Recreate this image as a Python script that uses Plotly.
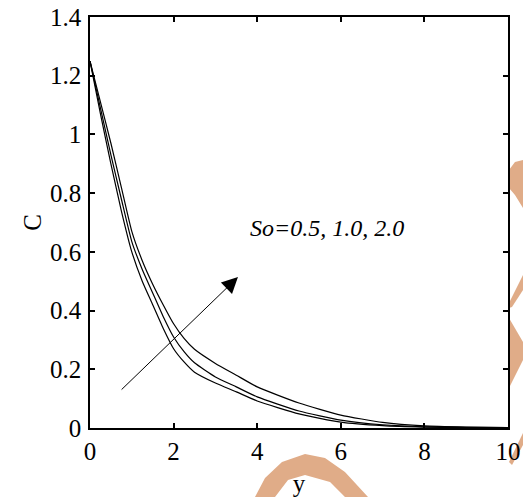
import plotly.graph_objects as go

y_grid = [0, 0.25, 0.5, 0.75, 1.0, 1.25, 1.5, 1.75, 2.0, 2.25, 2.5, 3.0, 3.5, 4.0, 5.0, 6.0, 7.0, 8.0, 9.0, 10.0]
c_so05 = [1.25, 1.07, 0.90, 0.74, 0.60, 0.50, 0.42, 0.34, 0.27, 0.225, 0.19, 0.153, 0.123, 0.092, 0.048, 0.020, 0.008, 0.003, 0.001, 0.0]
c_so10 = [1.25, 1.09, 0.93, 0.78, 0.635, 0.54, 0.46, 0.38, 0.31, 0.26, 0.222, 0.174, 0.140, 0.106, 0.058, 0.027, 0.011, 0.004, 0.002, 0.001]
c_so20 = [1.25, 1.11, 0.97, 0.82, 0.67, 0.57, 0.49, 0.42, 0.355, 0.305, 0.268, 0.220, 0.180, 0.140, 0.085, 0.044, 0.019, 0.007, 0.003, 0.001]

x_ticks = [0, 2, 4, 6, 8, 10]
y_ticks = [0, 0.2, 0.4, 0.6, 0.8, 1.0, 1.2, 1.4]
y_tick_text = ["0", "0.2", "0.4", "0.6", "0.8", "1", "1.2", "1.4"]

FONT = "Liberation Serif"
W, H = 523, 497
L, R, T, B = 90, 15, 17, 69

fig = go.Figure()
for vals in (c_so05, c_so10, c_so20):
    fig.add_trace(go.Scatter(x=y_grid, y=vals, mode="lines",
                             line=dict(color="black", width=1.2, shape="spline", smoothing=0.5),
                             showlegend=False, hoverinfo="skip"))

# arrow
fig.add_annotation(x=3.54, y=0.514, ax=0.72, ay=0.126, xref="x", yref="y", axref="x", ayref="y",
                   text="", showarrow=True, arrowhead=2, arrowsize=3.2, arrowwidth=1, arrowcolor="black")
fig.add_annotation(x=3.78, y=0.681, xref="x", yref="y", text="<i>So=0.5, 1.0, 2.0</i>", showarrow=False,
                   xanchor="left", yanchor="middle", font=dict(family=FONT, size=24, color="black"))

# watermark shapes (paper coords from pixels)
def px(xp, yp):
    return (xp - L) / (W - L - R), (H - B - yp) / (H - T - B)

def path(points):
    s = ""
    for i, (a, b) in enumerate(points):
        u, v = px(a, b)
        s += ("M" if i == 0 else "L") + f"{u:.4f},{v:.4f} "
    return s + "Z"

orange = "rgb(224,172,136)"
polys = [
    [(255, 497), (265, 478), (282, 462), (305, 454), (325, 458), (345, 472), (368, 497), (345, 497), (330, 482), (305, 475), (288, 480), (275, 497)],
    [(509, 170), (515, 162), (523, 160), (523, 208), (515, 195), (509, 188)],
    [(509, 303), (523, 275), (523, 290), (512, 307), (509, 308)],
    [(509, 318), (523, 342), (523, 360), (509, 388)],
    [(509, 462), (523, 433), (523, 445), (512, 465)],
]
for p in polys:
    fig.add_shape(type="path", path=path(p), xref="paper", yref="paper", fillcolor=orange,
                  line=dict(width=0), layer="below")

axis_common = dict(showgrid=False, zeroline=False, showline=True, linecolor="black", linewidth=1.5,
                   ticks="inside", ticklen=5, tickwidth=1.5, tickcolor="black", mirror="ticks",
                   automargin=False, tickfont=dict(family=FONT, size=25, color="black"))
fig.update_xaxes(range=[0, 10], tickvals=x_ticks, ticktext=[str(t) for t in x_ticks], ticklabelstandoff=0,
                 title=dict(text="y", font=dict(family=FONT, size=25, color="black"), standoff=26), **axis_common)
fig.update_yaxes(range=[0, 1.4], tickvals=y_ticks, ticktext=y_tick_text, ticklabelstandoff=2,
                 title=dict(text="C", font=dict(family=FONT, size=25, color="black"), standoff=1), **axis_common)

fig.update_layout(width=W, height=H, margin=dict(l=L, r=R, t=T, b=B), plot_bgcolor="rgba(0,0,0,0)",
                  paper_bgcolor="white", showlegend=False)
fig.write_html("out.html")
